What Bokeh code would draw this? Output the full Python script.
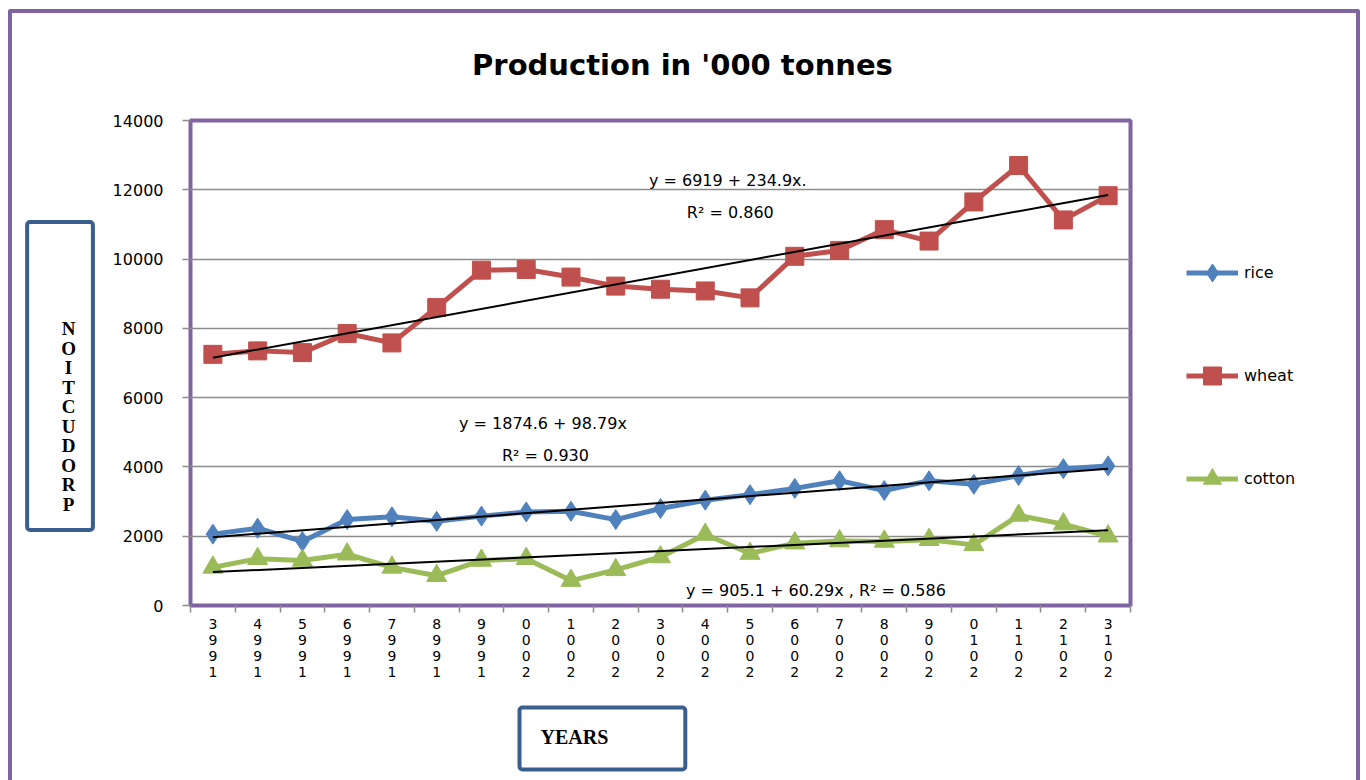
from bokeh.plotting import figure
from bokeh.layouts import row
from bokeh.models import (Range1d, FixedTicker, Label, Legend, LegendItem)
from bokeh.embed import file_html
from bokeh.resources import INLINE

# ---------------- data ----------------
years = list(range(1993, 2014))
rice = [2060, 2230, 1850, 2480, 2560, 2430, 2580, 2700, 2720, 2480, 2800,
        3040, 3200, 3380, 3600, 3320, 3600, 3500, 3750, 3950, 4030]
wheat = [7250, 7350, 7300, 7850, 7580, 8600, 9680, 9700, 9480, 9220, 9130,
         9080, 8880, 10080, 10250, 10850, 10520, 11650, 12700, 11130, 11830]
cotton = [1100, 1350, 1300, 1480, 1100, 860, 1300, 1350, 720, 1030, 1400,
          2050, 1500, 1800, 1860, 1850, 1900, 1750, 2600, 2350, 2000]
# trend line coefficients (intercept, slope), x = 1..21
trend_rice = (1874.6, 98.79)
trend_wheat = (6919.0, 234.9)
trend_cotton = (905.1, 60.29)
y_ticks = [0, 2000, 4000, 6000, 8000, 10000, 12000, 14000]

RICE_C = "#4F81BD"
WHEAT_C = "#C0504D"
COTTON_C = "#9BBB59"
PURPLE = "#8064A2"
BLUE_BOX = "#3A5F8F"
GRID = "#8C8C8C"
FONT = "DejaVu Sans"

xs = list(range(len(years)))
series = [("rice", rice, RICE_C, "diamond", 20),
          ("wheat", wheat, WHEAT_C, "square", 18),
          ("cotton", cotton, COTTON_C, "triangle", 20)]

# canvas starts at page (12, 13) because of the frame border + margin
H = 767
W1 = 1148
p = figure(width=W1, height=H, output_backend="svg", toolbar_location=None,
           x_range=Range1d(-0.5, len(years) - 0.5), y_range=Range1d(0, 14000),
           min_border_left=178, min_border_right=30, min_border_top=107,
           min_border_bottom=175)
p.background_fill_color = "white"
p.border_fill_color = "white"
p.outline_line_color = PURPLE
p.outline_line_width = 4

# axes
p.xaxis.ticker = FixedTicker(ticks=xs, minor_ticks=[i - 0.5 for i in range(len(years) + 1)])
p.xaxis.major_label_overrides = {i: "\n".join(reversed(str(y))) for i, y in zip(xs, years)}
p.xaxis.major_tick_out = 0
p.xaxis.major_tick_in = 0
p.xaxis.minor_tick_out = 7
p.xaxis.minor_tick_in = 0
p.xaxis.minor_tick_line_color = GRID
p.xaxis.minor_tick_line_width = 1.5
p.xaxis.axis_line_color = None
p.xaxis.major_label_text_font = FONT
p.xaxis.major_label_text_font_size = "14px"
p.xaxis.major_label_text_line_height = 1.0
p.xaxis.major_label_text_color = "black"
p.xaxis.major_label_standoff = 3

p.yaxis.ticker = FixedTicker(ticks=y_ticks, minor_ticks=[])
p.yaxis.major_tick_out = 8
p.yaxis.major_tick_in = 0
p.yaxis.major_tick_line_color = GRID
p.yaxis.major_tick_line_width = 1.5
p.yaxis.axis_line_color = None
p.yaxis.major_label_text_font = FONT
p.yaxis.major_label_text_font_size = "16px"
p.yaxis.major_label_text_color = "black"
p.yaxis.major_label_standoff = 19

p.xgrid.grid_line_color = None
p.ygrid.grid_line_color = GRID
p.ygrid.grid_line_width = 1.5

# series
for name, vals, col, marker, size in series:
    p.line(xs, vals, line_color=col, line_width=5)
    p.scatter(xs, vals, marker=marker, size=size, fill_color=col, line_color=col)

# trend lines (from the stated coefficients, at first and last year)
for a, b in [trend_wheat, trend_rice, trend_cotton]:
    xe = [xs[0], xs[-1]]
    ye = [a + b * (xs[0] + 1), a + b * (xs[-1] + 1)]
    p.line(xe, ye, line_color="black", line_width=2)

# equation labels
def eq(x, y, t):
    p.add_layout(Label(x=x, y=y, text=t, text_align="center", text_baseline="middle",
                       text_font=FONT, text_font_size="16px", text_color="black"))

eq(11.56, 12270, "y =  6919 + 234.9x.")
eq(11.56, 11345, "R² = 0.860")
eq(7.43, 5254, "y =  1874.6 + 98.79x")
eq(7.43, 4330, "R² = 0.930")
eq(13.53, 433, "y =  905.1 + 60.29x , R² = 0.586")

# title and axis-title boxes (side panels, so they are not clipped)
p.add_layout(Label(x=10.491, y=15588, text="Production in '000 tonnes", text_align="center",
                   text_baseline="middle", text_font=FONT, text_font_style="bold",
                   text_font_size="29px", text_color="black"), "above")
p.add_layout(Label(x=-3.415, y=6625, text="\n".join(reversed("PRODUCTION")),
                   text_align="center", text_baseline="middle",
                   text_font="Liberation Serif", text_font_style="bold",
                   text_font_size="19px", text_line_height=0.93, text_color="black",
                   padding=(34, 17, 96, 15), border_line_color=BLUE_BOX,
                   border_line_width=4, border_radius=3), "left")
p.add_layout(Label(x=6.850, y=-3839, text="YEARS", text_align="left",
                   text_baseline="middle", text_font="Liberation Serif",
                   text_font_style="bold", text_font_size="20px", text_color="black",
                   padding=(21, 77, 19, 21), border_line_color=BLUE_BOX,
                   border_line_width=4, border_radius=3), "below")

# legend in its own narrow figure at the right (its series sit outside its view)
W2 = 196
lg = figure(width=W2, height=H, output_backend="svg", toolbar_location=None,
            x_range=Range1d(100, 101), y_range=Range1d(0, 1),
            x_axis_location=None, y_axis_location=None,
            min_border_left=0, min_border_right=0, min_border_top=0, min_border_bottom=0)
lg.outline_line_color = None
lg.background_fill_alpha = 0
lg.xgrid.grid_line_color = None
lg.ygrid.grid_line_color = None
items = []
for name, vals, col, marker, size in series:
    lr = lg.line(xs, vals, line_color=col, line_width=5)
    sr = lg.scatter(xs, vals, marker=marker, size=size, fill_color=col, line_color=col)
    items.append(LegendItem(label=name, renderers=[lr, sr]))
legend = Legend(items=items, location=(26, 104))
legend.glyph_width = 52
legend.glyph_height = 45
legend.label_height = 20
legend.label_standoff = 6
legend.spacing = 58
legend.padding = 0
legend.margin = 0
legend.border_line_alpha = 0
legend.background_fill_alpha = 0
legend.label_text_font = FONT
legend.label_text_font_size = "16px"
legend.label_text_color = "black"
lg.add_layout(legend)

layout = row(p, lg, styles={"margin-left": "8px", "margin-top": "9px",
                            "border-left": "4px solid #8064A2",
                            "border-top": "4px solid #8064A2",
                            "border-right": "4px solid #8064A2",
                            "border-radius": "3px 3px 0 0"})

open("out.html", "w").write(file_html(layout, INLINE))
